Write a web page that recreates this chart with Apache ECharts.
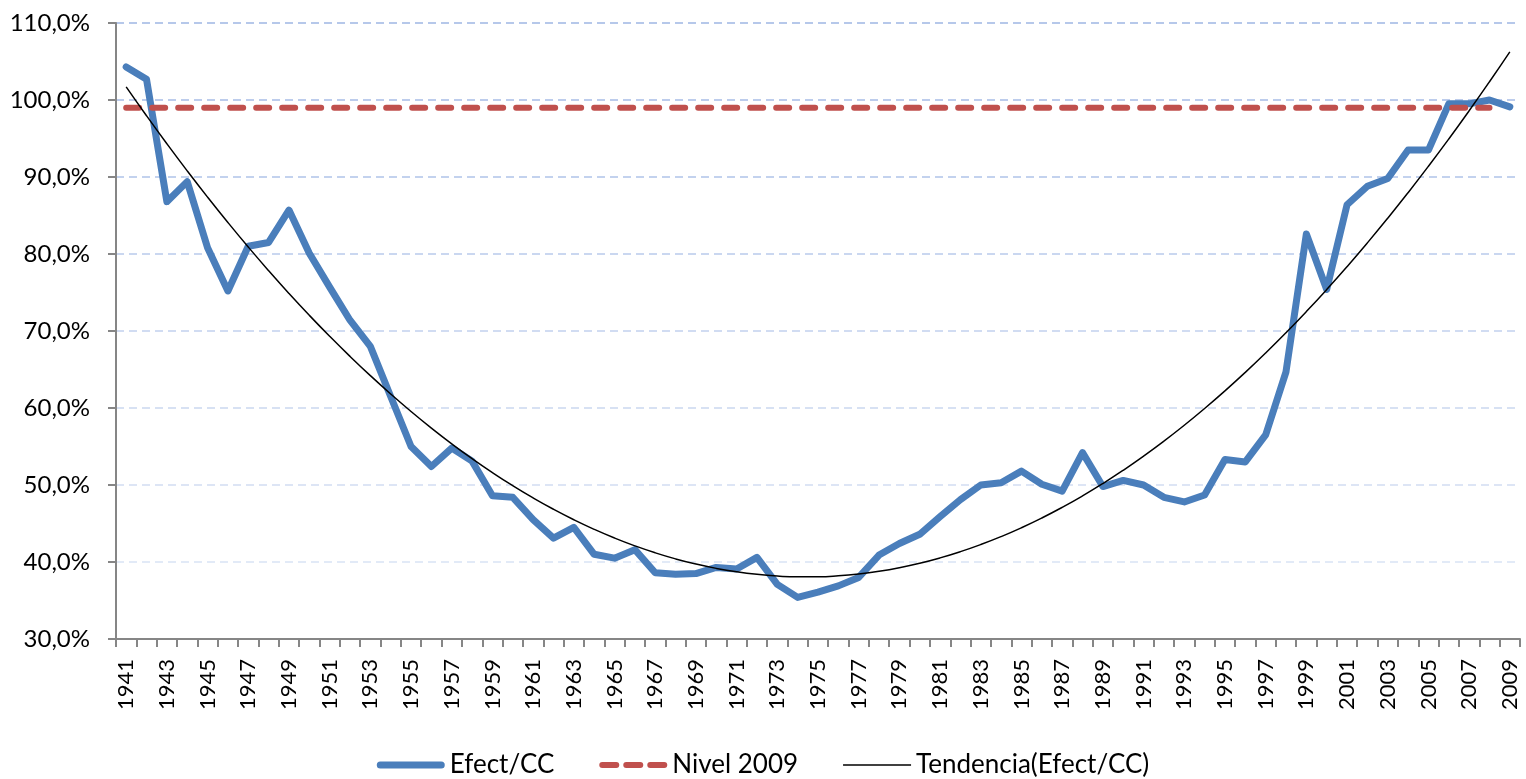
<!DOCTYPE html>
<html>
<head>
<meta charset="utf-8">
<script src="https://cdn.jsdelivr.net/npm/echarts@6/dist/echarts.min.js"></script>
<style>
html,body{margin:0;padding:0;background:#fff;}
#chart{width:1526px;height:779px;}
</style>
</head>
<body>
<div id="chart"></div>
<script>
// ---- data ----
var years = [];
for (var y = 1941; y <= 2009; y++) years.push(String(y));

var efectCC = [
  104.3, 102.7, 86.8, 89.4, 80.8, 75.2, 81.0, 81.5, 85.7, 80.1,
  75.7, 71.4, 68.0, 61.5, 55.0, 52.4, 54.8, 53.1, 48.6, 48.4,
  45.5, 43.1, 44.5, 41.0, 40.5, 41.6, 38.6, 38.4, 38.5, 39.3,
  39.1, 40.6, 37.1, 35.4, 36.1, 36.9, 38.0, 40.9, 42.4, 43.6,
  45.9, 48.1, 50.0, 50.3, 51.8, 50.1, 49.2, 54.2, 49.8, 50.6,
  50.0, 48.4, 47.8, 48.7, 53.3, 53.0, 56.5, 64.7, 82.6, 75.4,
  86.4, 88.8, 89.8, 93.5, 93.5, 99.5, 99.5, 100.0, 99.1
];

var nivel2009Value = 99.0;
var nivel2009 = years.map(function (yr) { return yr === '2009' ? null : nivel2009Value; });

var yTicks = [30, 40, 50, 60, 70, 80, 90, 100, 110];

// Tendencia: polynomial (order 2) least-squares trendline of Efect/CC, as in the spreadsheet
function quadFit(vals) {
  var n = vals.length, s = [0,0,0,0,0], t = [0,0,0];
  for (var i = 0; i < n; i++) {
    var x = i + 1, v = vals[i];
    s[0] += 1; s[1] += x; s[2] += x*x; s[3] += x*x*x; s[4] += x*x*x*x;
    t[0] += v; t[1] += v*x; t[2] += v*x*x;
  }
  var A = [[s[0],s[1],s[2],t[0]],[s[1],s[2],s[3],t[1]],[s[2],s[3],s[4],t[2]]];
  for (var c = 0; c < 3; c++) {
    for (var r = c+1; r < 3; r++) {
      var f = A[r][c]/A[c][c];
      for (var k = c; k < 4; k++) A[r][k] -= f*A[c][k];
    }
  }
  var b = [0,0,0];
  for (var r2 = 2; r2 >= 0; r2--) {
    var sum = A[r2][3];
    for (var k2 = r2+1; k2 < 3; k2++) sum -= A[r2][k2]*b[k2];
    b[r2] = sum/A[r2][r2];
  }
  return vals.map(function (_, i) { var x = i + 1; return b[0] + b[1]*x + b[2]*x*x; });
}
var tendencia = quadFit(efectCC);

// ---- chart ----
var FONT = 'Lato, "Noto Sans", sans-serif';
var gridColors = ['#dfe7f6','#d9e3f5','#d2ddf2','#cad7f0','#c2d1ee','#b9caeb','#b0c3e9','#a7bce6','#9fb6e4'];

// legend icons (68 px wide strokes)
var iconSolidThick = 'path://M3.5,0 H64.5 A3.5,3.5 0 0 1 64.5,7 H3.5 A3.5,3.5 0 0 1 3.5,0 Z';
var iconDashed = 'path://M3,0 H17 A3,3 0 0 1 17,6 H3 A3,3 0 0 1 3,0 Z ' +
                 'M27,0 H41 A3,3 0 0 1 41,6 H27 A3,3 0 0 1 27,0 Z ' +
                 'M51,0 H65 A3,3 0 0 1 65,6 H51 A3,3 0 0 1 51,0 Z';
var iconThin = 'path://M0,0 H68 V1.4 H0 Z';

var chart = echarts.init(document.getElementById('chart'), null, {renderer: 'canvas'});
chart.setOption({
  animation: false,
  backgroundColor: '#ffffff',
  grid: {left: 116, right: 6, top: 23, bottom: 140, containLabel: false},
  legend: {
    top: 747,
    left: 'center',
    itemWidth: 68,
    itemHeight: 14,
    itemGap: 45,
    symbolKeepAspect: true,
    textStyle: {fontFamily: FONT, fontSize: 26, color: '#000'},
    data: [
      {name: 'Efect/CC', icon: iconSolidThick},
      {name: 'Nivel 2009', icon: iconDashed},
      {name: 'Tendencia(Efect/CC)', icon: iconThin}
    ]
  },
  xAxis: {
    type: 'category',
    data: years,
    boundaryGap: true,
    axisLine: {lineStyle: {color: '#868686', width: 2}},
    axisTick: {show: true, interval: 0, length: 8, lineStyle: {color: '#868686', width: 2}},
    axisLabel: {
      interval: 1, rotate: 90, margin: 20,
      fontFamily: FONT, fontSize: 22, color: '#000'
    },
    splitLine: {show: false}
  },
  yAxis: {
    type: 'value',
    min: yTicks[0], max: yTicks[yTicks.length-1], interval: 10,
    axisLine: {show: true, lineStyle: {color: '#868686', width: 2}},
    axisTick: {show: true, length: 8, lineStyle: {color: '#868686', width: 2}},
    axisLabel: {
      margin: 26, fontFamily: FONT, fontSize: 24, color: '#000',
      formatter: function (v) { return v.toFixed(1).replace('.', ',') + '%'; }
    },
    splitLine: {show: true, lineStyle: {color: gridColors, type: [8, 5], width: 1.5}}
  },
  series: [
    {
      name: 'Efect/CC', type: 'line', data: efectCC,
      showSymbol: false, symbol: 'none',
      lineStyle: {color: '#4a7ebb', width: 7, cap: 'round', join: 'round'},
      itemStyle: {color: '#4a7ebb'}, z: 2
    },
    {
      name: 'Nivel 2009', type: 'line', data: nivel2009,
      showSymbol: false, symbol: 'none',
      lineStyle: {color: '#c0504d', width: 6, type: [13, 13], cap: 'round'},
      itemStyle: {color: '#c0504d'}, z: 3
    },
    {
      name: 'Tendencia(Efect/CC)', type: 'line', data: tendencia,
      showSymbol: false, symbol: 'none', smooth: true,
      lineStyle: {color: '#000000', width: 1.5},
      itemStyle: {color: '#000000'}, z: 4
    }
  ]
});
</script>
</body>
</html>
